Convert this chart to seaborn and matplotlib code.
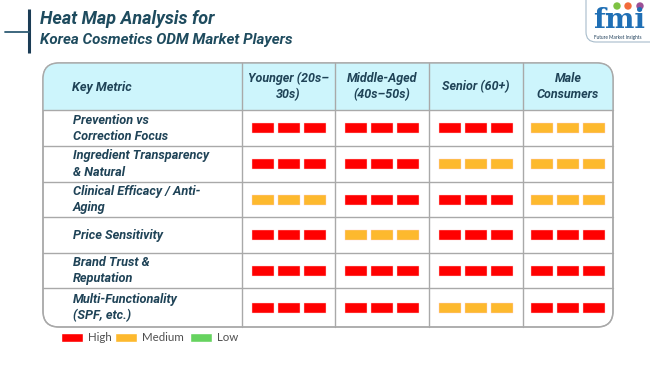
import numpy as np
import pandas as pd
import matplotlib.pyplot as plt
import seaborn as sns
from matplotlib.patches import FancyBboxPatch, Rectangle, Circle

# ---------------------------------------------------------------
# Data
# ---------------------------------------------------------------
metrics = [
    "Prevention vs\nCorrection Focus",
    "Ingredient Transparency\n& Natural",
    "Clinical Efficacy / Anti-\nAging",
    "Price Sensitivity",
    "Brand Trust &\nReputation",
    "Multi-Functionality\n(SPF, etc.)",
]
segments = ["Younger (20s–\n30s)", "Middle-Aged\n(40s–50s)", "Senior (60+)", "Male\nConsumers"]

younger = ["High", "High", "Medium", "High", "High", "High"]
middle_aged = ["High", "High", "High", "Medium", "High", "High"]
senior = ["High", "Medium", "High", "High", "High", "Medium"]
male = ["Medium", "Medium", "Medium", "High", "High", "High"]

levels = ["High", "Medium", "Low"]
level_colors = ["#FF0000", "#FDB92E", "#66D35F"]

df = pd.DataFrame({"Younger": younger, "Middle": middle_aged, "Senior": senior, "Male": male},
                  index=metrics)

# ---------------------------------------------------------------
# Layout (pixel coordinates of a 650x365 canvas)
# ---------------------------------------------------------------
col_edges = [43, 242, 335, 429, 523, 613]
row_edges = [63, 110, 146, 182, 217, 253, 288, 327]
text_color = "#1F4357"
grid_color = "#A9A9A9"
header_fill = "#CDF5FC"
ital = dict(fontweight="bold", fontstyle="italic", family=["Roboto", "DejaVu Sans"])

sns.set_theme(style="white")
plt.rcParams['font.family'] = ['Lato', 'DejaVu Sans']

fig = plt.figure(figsize=(6.5, 3.65), dpi=100)
ax = fig.add_axes([0, 0, 1, 1])
ax.set_xlim(0, 650)
ax.set_ylim(365, 0)
ax.axis("off")

# Title block
ax.plot([29, 29], [9, 53], color="#1B3C55", lw=2.2, solid_capstyle="butt")
ax.plot([5, 29], [32, 32], color="#2E5C74", lw=1.3)
ax.text(40, 19, "Heat Map Analysis for", fontsize=13, color="#1E4B5E",
        va="center", ha="left", **ital)
ax.text(40, 40, "Korea Cosmetics ODM Market Players", fontsize=10.9, color="#1E4B5E",
        va="center", ha="left", **ital)

# Logo
logo = FancyBboxPatch((586, -20), 80, 62, boxstyle="round,pad=0,rounding_size=10",
                      fc="white", ec="#A8BCCB", lw=0.8)
ax.add_patch(logo)
ax.text(619, 20, "fmi", fontsize=20, fontweight="bold", color="#1F6FB5",
        ha="center", va="center", family="DejaVu Serif")
for cx, c in zip([617, 628, 640], ["#7DC242", "#F26B3A", "#9B4F96"]):
    ax.add_patch(Circle((cx, 6), 3.0, color=c))
ax.text(618, 37.5, "Future Market Insights", fontsize=3.4, color="#1F3F5A", ha="center", va="center")

# Table frame
table_x0, table_x1 = col_edges[0], col_edges[-1]
table_y0, table_y1 = row_edges[0], row_edges[-1]
frame = FancyBboxPatch((table_x0, table_y0), table_x1 - table_x0, table_y1 - table_y0,
                       boxstyle="round,pad=0,rounding_size=16", fc="white", ec=grid_color, lw=1.0,
                       zorder=1)
ax.add_patch(frame)
header = Rectangle((table_x0, table_y0), table_x1 - table_x0, row_edges[1] - row_edges[0],
                   fc=header_fill, ec="none", zorder=1.5)
ax.add_patch(header)
header.set_clip_path(frame)
frame_edge = FancyBboxPatch((table_x0, table_y0), table_x1 - table_x0, table_y1 - table_y0,
                            boxstyle="round,pad=0,rounding_size=16", fc="none", ec=grid_color,
                            lw=1.0, zorder=3)
ax.add_patch(frame_edge)

for y in row_edges[1:-1]:
    ax.plot([table_x0, table_x1], [y, y], color=grid_color, lw=1.0, zorder=2)
for x in col_edges[1:-1]:
    ax.plot([x, x], [table_y0, table_y1], color=grid_color, lw=1.0, zorder=2)

# Header text
ax.text(72, (row_edges[0] + row_edges[1]) / 2 + 1, "Key Metric", fontsize=9.2,
        color=text_color, ha="left", va="center", zorder=4, **ital)
for j, seg in enumerate(segments):
    cx = (col_edges[j + 1] + col_edges[j + 2]) / 2
    ax.text(cx, (row_edges[0] + row_edges[1]) / 2, seg, fontsize=9, color=text_color,
            ha="center", va="center", linespacing=1.25, zorder=4, **ital)

# Rows
color_map = dict(zip(levels, level_colors))
bar_w, bar_h, bar_step = 22, 10, 26
for i, metric in enumerate(metrics):
    cy = (row_edges[i + 1] + row_edges[i + 2]) / 2
    ax.text(73, cy, metric, fontsize=9.2, color=text_color, ha="left", va="center",
            linespacing=1.3, zorder=4, **ital)
    for j, col in enumerate(df.columns):
        cx = (col_edges[j + 1] + col_edges[j + 2]) / 2
        xs = cx + bar_step * np.array([-1, 0, 1])
        ax.bar(xs, bar_h, width=bar_w, bottom=cy - bar_h / 2,
               color=color_map[df.loc[metric, col]], edgecolor="#FFD0D0", linewidth=0.3, zorder=4)

# Legend
legend_x = [61, 115, 190]
for lx, lev, c in zip(legend_x, levels, level_colors):
    ax.bar(lx + 11, 9, width=22, bottom=333, color=c, zorder=4)
    ax.text(lx + 27, 337.5, lev, fontsize=8.3, color="#505050", ha="left", va="center")

plt.savefig("out.png", dpi=100)
plt.close()
